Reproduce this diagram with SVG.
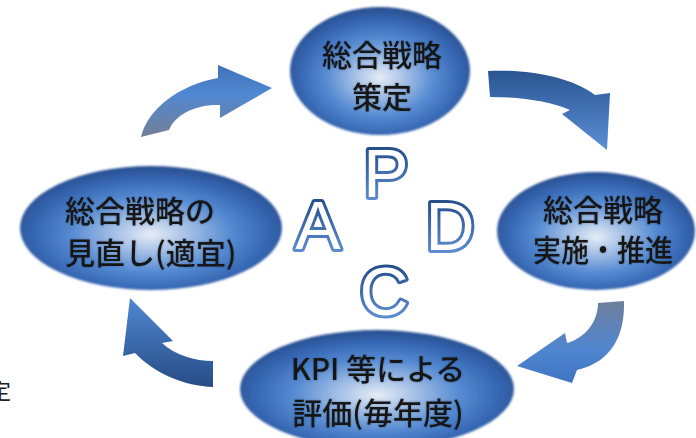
<svg xmlns="http://www.w3.org/2000/svg" width="696" height="438" viewBox="0 0 696 438">
<defs>
<style>
.node-bg{fill:url(#ellGrad);filter:url(#soft)}
.lbl{font-family:"Noto Sans CJK JP","Noto Sans",sans-serif;font-size:30px;font-weight:500;fill:#161616;filter:url(#tshadow)}
.mid{text-anchor:middle}
.pdca{font-family:"Liberation Sans",Arial,sans-serif;font-size:68px;fill:#ffffff;stroke:url(#letterGrad);stroke-width:6;paint-order:stroke;text-anchor:middle;stroke-linejoin:round}
</style>
<radialGradient id="ellGrad" cx="50%" cy="55%" r="55%">
<stop offset="0" stop-color="#e6edf6"/>
<stop offset="0.25" stop-color="#a6c1e6"/>
<stop offset="0.55" stop-color="#568bd2"/>
<stop offset="0.8" stop-color="#3768b4"/>
<stop offset="1" stop-color="#284f90"/>
</radialGradient>
<linearGradient id="letterGrad" x1="0" y1="0" x2="0" y2="1">
<stop offset="0" stop-color="#173f7c"/>
<stop offset="1" stop-color="#6a9ade"/>
</linearGradient>
<linearGradient id="arr1" x1="0" y1="0" x2="0" y2="1">
<stop offset="0" stop-color="#3e70b8"/>
<stop offset="0.4" stop-color="#5089d2"/>
<stop offset="1" stop-color="#737f96"/>
</linearGradient>
<linearGradient id="arr2" x1="0" y1="0" x2="0" y2="1">
<stop offset="0" stop-color="#2a5592"/>
<stop offset="1" stop-color="#5b8fd6"/>
</linearGradient>
<linearGradient id="arr3" x1="0" y1="0" x2="0" y2="1">
<stop offset="0" stop-color="#6e7f9c"/>
<stop offset="0.6" stop-color="#4f86d0"/>
<stop offset="1" stop-color="#3f74c0"/>
</linearGradient>
<linearGradient id="arr4" x1="0" y1="0" x2="0" y2="1">
<stop offset="0" stop-color="#5088d2"/>
<stop offset="1" stop-color="#264c86"/>
</linearGradient>
<filter id="soft" x="-10%" y="-10%" width="120%" height="120%">
<feGaussianBlur stdDeviation="1.2"/>
</filter>
<filter id="tshadow" x="-10%" y="-30%" width="120%" height="160%">
<feGaussianBlur in="SourceAlpha" stdDeviation="1.3" result="b"/>
<feFlood flood-color="#1a2a40" flood-opacity="0.35"/>
<feComposite in2="b" operator="in" result="g"/>
<feMerge><feMergeNode in="g"/><feMergeNode in="SourceGraphic"/></feMerge>
</filter>
</defs>
<rect width="696" height="438" fill="#ffffff"/>

<g id="connectors">
<path d="M141,137 C148,108 180,85 218,78 L218,65 L272,88 L220,118 L220,105 C195,104 175,115 169,130 Z" fill="url(#arr1)"/>
<path d="M488,71 C525,69 570,76 595,95 L610,93 L607,150 L562,114 L570,110 C550,101 520,97 490,97 Z" fill="url(#arr2)"/>
<path d="M598,303 L624,301 C625,335 612,362 577,370 L572,383 L517,366 L565,333 L567,343 C585,338 598,322 598,303 Z" fill="url(#arr3)"/>
<path d="M213,361 L213,387 C185,386 155,374 135,353 L123,356 L130,298 L173,341 L162,343 C175,355 195,361 213,361 Z" fill="url(#arr4)"/>
</g>

<g id="node-plan">
<ellipse class="node-bg" cx="380" cy="71" rx="90" ry="64"/>
<text class="lbl mid" x="382" y="66">総合戦略</text>
<text class="lbl mid" x="382" y="108">策定</text>
</g>

<g id="node-do">
<ellipse class="node-bg" cx="596" cy="231" rx="99" ry="59"/>
<text class="lbl mid" x="603" y="221">総合戦略</text>
<text class="lbl mid" x="603" y="261" textLength="140" lengthAdjust="spacingAndGlyphs">実施・推進</text>
</g>

<g id="node-check">
<ellipse class="node-bg" cx="377" cy="389" rx="137" ry="59"/>
<text class="lbl mid" x="378" y="380">KPI 等による</text>
<text class="lbl mid" x="378" y="424">評価(毎年度)</text>
</g>

<g id="node-act">
<ellipse class="node-bg" cx="151" cy="228" rx="131" ry="62"/>
<text class="lbl" x="65" y="222">総合戦略の</text>
<text class="lbl" x="65" y="264">見直し(適宜)</text>
</g>

<g id="pdca-letters">
<text class="pdca" x="386" y="197">P</text>
<text class="pdca" x="318" y="249">A</text>
<text class="pdca" x="450" y="250">D</text>
<text class="pdca" x="384" y="315">C</text>
</g>

<text x="-11" y="399" font-family="Noto Sans CJK JP, sans-serif" font-size="22" fill="#222222">定</text>
</svg>
